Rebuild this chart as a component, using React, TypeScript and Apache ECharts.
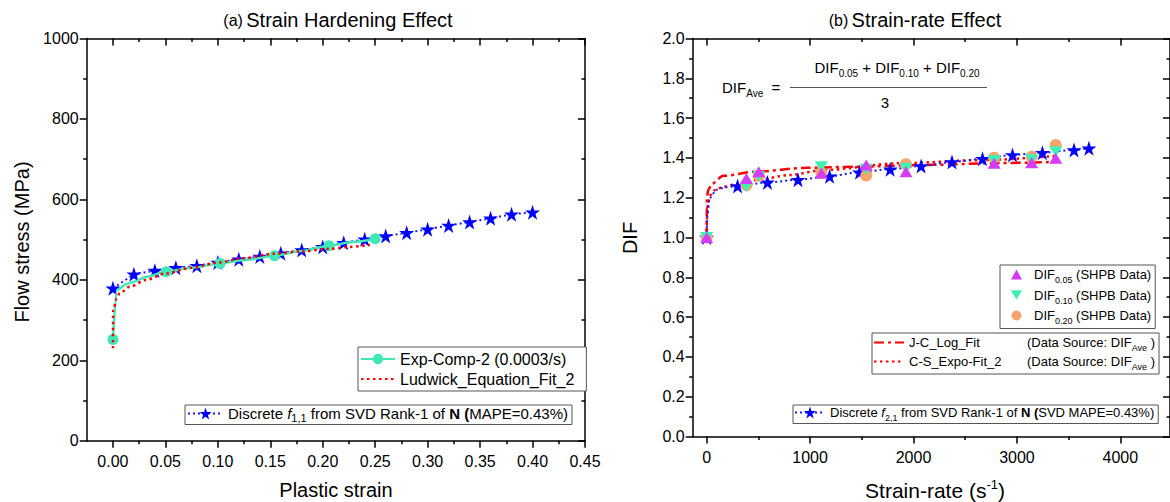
import React, { useEffect, useRef } from "react";
import * as echarts from "echarts";

const FONT = "'Liberation Sans', Arial, Helvetica, sans-serif";

// ---------- (a) Strain hardening ----------
const strainMajor = [0, 0.05, 0.1, 0.15, 0.2, 0.25, 0.3, 0.35, 0.4, 0.45];
const strainMinor = [0.025, 0.075, 0.125, 0.175, 0.225, 0.275, 0.325, 0.375, 0.425];

const f11Strain = [0, 0.02, 0.04, 0.06, 0.08, 0.1, 0.12, 0.14, 0.16, 0.18, 0.2, 0.22, 0.24, 0.26, 0.28, 0.3, 0.32, 0.34, 0.36, 0.38, 0.4];
const f11Stress = [379, 414, 423, 430, 435, 443, 451, 458, 466, 474, 482, 492, 501, 509, 517, 526, 535, 544, 553, 563, 568];

const expStrain = [0, 0.004, 0.0133, 0.0196, 0.0324, 0.0508, 0.075, 0.102, 0.128, 0.154, 0.18, 0.206, 0.228, 0.25];
const expStress = [252, 375, 390, 395, 408, 420, 430, 441, 450, 460, 472, 485, 494, 502];
const expMarkerIdx = [0, 5, 7, 9, 11, 13];

const ludStrain = [0, 0.0003, 0.0035, 0.0066, 0.016, 0.032, 0.05, 0.075, 0.1, 0.125, 0.153, 0.18, 0.206, 0.225, 0.245];
const ludStress = [230, 325, 354, 367, 383, 400, 416, 430, 443, 454, 465, 471, 477, 482, 487];

// ---------- (b) Strain-rate ----------
const rateMajor = [0, 1000, 2000, 3000, 4000];
const rateMinor = [500, 1500, 2500, 3500];

const f21Rate = [0, 8, 30, 95, 180, 299, 588, 883, 1189, 1478, 1774, 2073, 2372, 2667, 2957, 3246, 3552, 3696];
const f21Dif = [1.0, 1.12, 1.2, 1.24, 1.252, 1.259, 1.277, 1.29, 1.308, 1.328, 1.343, 1.359, 1.379, 1.396, 1.415, 1.426, 1.44, 1.448];
const f21MarkerIdx = [0, 5, 6, 7, 8, 9, 10, 11, 12, 13, 14, 15, 16, 17];

const shpbRate = [0, 384, 504, 1109, 1543, 1927, 2780, 3142, 3375];
const dif005 = [1.0, 1.297, 1.331, 1.323, 1.364, 1.331, 1.373, 1.376, 1.398];
const dif010 = [1.0, 1.255, 1.306, 1.356, 1.343, 1.348, 1.387, 1.391, 1.431];
const dif020 = [1.0, 1.262, 1.31, 1.325, 1.311, 1.368, 1.401, 1.406, 1.465];

const jcRate = [0, 0.5, 3, 15, 50, 160, 480, 960, 1450, 2180, 2830, 3380];
const jcDif = [1.0, 1.15, 1.2, 1.24, 1.27, 1.31, 1.331, 1.35, 1.356, 1.365, 1.374, 1.38];

const csRate = [0, 3, 15, 40, 80, 160, 321, 482, 803, 1125, 1864, 2667, 3380];
const csDif = [1.0, 1.1, 1.18, 1.215, 1.239, 1.255, 1.272, 1.289, 1.314, 1.339, 1.373, 1.389, 1.41];

const STAR = "path://M50,0L61.8,35.5L99,35.5L69,57.5L80.5,93L50,71L19.5,93L31,57.5L1,35.5L38.2,35.5Z";
const DOWN_TRI = "path://M0,0L100,0L50,87Z";

const AX = "#000";

function richSet(fs: number, lh: number) {
  const base = { fontFamily: FONT, color: "#000" };
  return {
    n: { ...base, fontSize: fs, lineHeight: lh, verticalAlign: "middle" },
    s: { ...base, fontSize: fs - 4, lineHeight: lh, verticalAlign: "bottom" },
    i: { ...base, fontSize: fs, lineHeight: lh, verticalAlign: "middle", fontStyle: "italic" },
    b: { ...base, fontSize: fs, lineHeight: lh, verticalAlign: "middle", fontWeight: "bold" },
    w: { ...base, fontSize: fs, lineHeight: lh, verticalAlign: "middle", width: 118 },
    g: { ...base, fontSize: fs, lineHeight: lh, verticalAlign: "middle", width: 7 },
  };
}

function xAxes(gridIndex: number, min: number, max: number, major: number[], minor: number[], fmt: (v: number) => string) {
  const common = { type: "value", gridIndex, min, max, splitLine: { show: false } };
  return [
    {
      ...common,
      position: "bottom",
      axisLine: { show: true, onZero: false, lineStyle: { color: AX, width: 1.5 } },
      axisTick: { show: true, inside: false, length: 7, customValues: major, lineStyle: { color: AX, width: 1.5 } },
      axisLabel: { show: true, customValues: major, margin: 13, fontSize: 16, color: "#000", fontFamily: FONT, formatter: fmt },
    },
    {
      ...common,
      position: "bottom",
      axisLine: { show: false, onZero: false },
      axisTick: { show: true, inside: false, length: 3.5, customValues: minor, lineStyle: { color: AX, width: 1.5 } },
      axisLabel: { show: false },
    },
    {
      ...common,
      position: "top",
      axisLine: { show: true, onZero: false, lineStyle: { color: AX, width: 1.5 } },
      axisTick: { show: true, inside: true, length: 7, customValues: major, lineStyle: { color: AX, width: 1.5 } },
      axisLabel: { show: false },
    },
    {
      ...common,
      position: "top",
      axisLine: { show: false, onZero: false },
      axisTick: { show: true, inside: true, length: 3.5, customValues: minor, lineStyle: { color: AX, width: 1.5 } },
      axisLabel: { show: false },
    },
  ];
}

function yAxes(gridIndex: number, min: number, max: number, interval: number, fmt: (v: number) => string) {
  const common = { type: "value", gridIndex, min, max, interval, splitLine: { show: false } };
  return [
    {
      ...common,
      position: "left",
      axisLine: { show: true, onZero: false, lineStyle: { color: AX, width: 1.5 } },
      axisTick: { show: true, inside: false, length: 7, lineStyle: { color: AX, width: 1.5 } },
      minorTick: { show: true, splitNumber: 2, length: 3.5, lineStyle: { color: AX, width: 1.5 } },
      axisLabel: { show: true, margin: 8, fontSize: 16, color: "#000", fontFamily: FONT, formatter: fmt },
    },
    {
      ...common,
      position: "right",
      axisLine: { show: true, onZero: false, lineStyle: { color: AX, width: 1.5 } },
      axisTick: { show: true, inside: true, length: 7, lineStyle: { color: AX, width: 1.5 } },
      minorTick: { show: true, splitNumber: 2, length: 3.5, lineStyle: { color: AX, width: 1.5 } },
      axisLabel: { show: false },
    },
  ];
}

const pairs = (xs: number[], ys: number[]) => xs.map((x, i) => [x, ys[i]]);
const marked = (xs: number[], ys: number[], idx: number[]) =>
  xs.map((x, i) => (idx.includes(i) ? [x, ys[i]] : { value: [x, ys[i]], symbol: "none" }));

const legendBase = {
  orient: "vertical",
  selectedMode: false,
  borderColor: "#555",
  borderWidth: 1,
  borderRadius: 0,
  backgroundColor: "#fff",
};

const NO_SYMBOL = { opacity: 0 };

export default function App() {
  const ref = useRef<HTMLDivElement>(null);
  useEffect(() => {
    if (!ref.current) return;
    const chart = echarts.init(ref.current, undefined, { renderer: "svg" });
    const r15 = richSet(15, 20);
    const r13a = richSet(13, 20);
    const r13b = richSet(13, 19);
    const r13c = richSet(13, 20);
    const option: any = {
      animation: false,
      backgroundColor: "#fff",
      textStyle: { fontFamily: FONT },
      grid: [
        { left: 86.7, top: 38.5, width: 498.3, height: 402.3 },
        { left: 692.7, top: 38.5, width: 478.3, height: 398 },
      ],
      xAxis: [
        ...xAxes(0, -0.025, 0.45, strainMajor, strainMinor, (v: number) => v.toFixed(2)),
        ...xAxes(1, -135, 4480, rateMajor, rateMinor, (v: number) => String(Math.round(v))),
      ],
      yAxis: [
        ...yAxes(0, 0, 1000, 200, (v: number) => String(v)),
        ...yAxes(1, 0, 2, 0.2, (v: number) => v.toFixed(1)),
      ],
      legend: [
        {
          ...legendBase,
          data: [
            { name: "Exp-Comp-2 (0.0003/s)" },
            { name: "Ludwick_Equation_Fit_2", itemStyle: NO_SYMBOL },
          ],
          left: 358,
          top: 347,
          itemWidth: 34,
          itemHeight: 13,
          itemGap: 4,
          padding: [4, 12, 4, 2],
          textStyle: { fontSize: 16, color: "#000", fontFamily: FONT },
        },
        {
          ...legendBase,
          data: ["f11"],
          left: 185,
          top: 405,
          itemWidth: 35,
          itemHeight: 15,
          padding: [1, 4, 1, 2],
          formatter: () => "{n|Discrete }{i|f}{s|1,1}{n| from SVD Rank-1 of }{b|N}{b| (}{n|MAPE=0.43%)}",
          textStyle: { rich: r15 },
        },
        {
          ...legendBase,
          data: ["DIF005", "DIF010", "DIF020"],
          left: 1000,
          top: 265,
          itemWidth: 11,
          itemHeight: 10,
          itemGap: 4,
          padding: [3, 4, 3, 11],
          formatter: (name: string) => {
            const sub = name === "DIF005" ? "0.05" : name === "DIF010" ? "0.10" : "0.20";
            return `{g|}{n|DIF}{s|${sub}}{n| (SHPB Data)}`;
          },
          textStyle: { rich: r13a },
        },
        {
          ...legendBase,
          data: [
            { name: "JC", itemStyle: NO_SYMBOL },
            { name: "CS", itemStyle: NO_SYMBOL },
          ],
          left: 872,
          top: 333,
          itemWidth: 30,
          itemHeight: 10,
          itemGap: 3,
          padding: [3, 4, 3, 1],
          formatter: (name: string) => {
            const lab = name === "JC" ? "J-C_Log_Fit" : "C-S_Expo-Fit_2";
            return `{w|${lab}}{n|(Data Source: DIF}{s|Ave}{n| )}`;
          },
          textStyle: { rich: r13b },
        },
        {
          ...legendBase,
          data: ["f21"],
          left: 793,
          top: 405,
          itemWidth: 30,
          itemHeight: 15,
          padding: [1, 4, 1, 1],
          formatter: () => "{n|Discrete }{i|f}{s|2,1}{n| from SVD Rank-1 of }{b|N}{b| (}{n|SVD MAPE=0.43%)}",
          textStyle: { rich: r13c },
        },
      ],
      series: [
        {
          name: "f11",
          type: "line",
          xAxisIndex: 0,
          yAxisIndex: 0,
          data: pairs(f11Strain, f11Stress),
          symbol: STAR,
          symbolSize: 15,
          showAllSymbol: true,
          itemStyle: { color: "#0000ff" },
          lineStyle: { color: "#1a1aff", width: 2, type: [2, 3] },
          z: 2,
        },
        {
          name: "Exp-Comp-2 (0.0003/s)",
          type: "line",
          xAxisIndex: 0,
          yAxisIndex: 0,
          data: marked(expStrain, expStress, expMarkerIdx),
          symbol: "circle",
          symbolSize: 11,
          showAllSymbol: true,
          smooth: 0.3,
          smoothMonotone: "x",
          itemStyle: { color: "#3fe8b5" },
          lineStyle: { color: "#3fe8b5", width: 2.5 },
          z: 3,
        },
        {
          name: "Ludwick_Equation_Fit_2",
          type: "line",
          xAxisIndex: 0,
          yAxisIndex: 0,
          data: pairs(ludStrain, ludStress),
          symbol: "none",
          smooth: 0.3,
          smoothMonotone: "x",
          itemStyle: { color: "#ff0000" },
          lineStyle: { color: "#ff0000", width: 2.5, type: [2.5, 3.5] },
          z: 4,
        },
        {
          name: "JC",
          type: "line",
          xAxisIndex: 4,
          yAxisIndex: 2,
          data: pairs(jcRate, jcDif),
          symbol: "none",
          smooth: 0.3,
          smoothMonotone: "x",
          itemStyle: { color: "#ff0000" },
          lineStyle: { color: "#ff0000", width: 2.5, type: [10, 4, 3, 4] },
          z: 2,
        },
        {
          name: "CS",
          type: "line",
          xAxisIndex: 4,
          yAxisIndex: 2,
          data: pairs(csRate, csDif),
          symbol: "none",
          smooth: 0.3,
          smoothMonotone: "x",
          itemStyle: { color: "#ff0000" },
          lineStyle: { color: "#ff0000", width: 2.5, type: [2.5, 3.5] },
          z: 2,
        },
        {
          name: "f21",
          type: "line",
          xAxisIndex: 4,
          yAxisIndex: 2,
          data: marked(f21Rate, f21Dif, f21MarkerIdx),
          symbol: STAR,
          symbolSize: 15,
          showAllSymbol: true,
          smooth: 0.3,
          smoothMonotone: "x",
          itemStyle: { color: "#0000ff" },
          lineStyle: { color: "#1a1aff", width: 2, type: [2, 3] },
          z: 3,
        },
        {
          name: "DIF020",
          type: "scatter",
          xAxisIndex: 4,
          yAxisIndex: 2,
          data: pairs(shpbRate, dif020),
          symbol: "circle",
          symbolSize: 12,
          itemStyle: { color: "#f4a46c", opacity: 1 },
          z: 4,
        },
        {
          name: "DIF010",
          type: "scatter",
          xAxisIndex: 4,
          yAxisIndex: 2,
          data: pairs(shpbRate, dif010),
          symbol: DOWN_TRI,
          symbolSize: [13, 11],
          itemStyle: { color: "#3ff0b4", opacity: 1 },
          z: 4,
        },
        {
          name: "DIF005",
          type: "scatter",
          xAxisIndex: 4,
          yAxisIndex: 2,
          data: pairs(shpbRate, dif005),
          symbol: "triangle",
          symbolSize: [13, 11],
          itemStyle: { color: "#d43cf5", opacity: 1 },
          z: 4,
        },
      ],
      graphic: [
        {
          type: "text",
          x: 338,
          y: 20,
          style: {
            text: "{a|(a)} {t|Strain Hardening Effect}",
            align: "center",
            verticalAlign: "middle",
            rich: {
              a: { fontSize: 16, fontFamily: FONT, fill: "#000" },
              t: { fontSize: 20, fontFamily: FONT, fill: "#000" },
            },
          },
        },
        {
          type: "text",
          x: 915,
          y: 20,
          style: {
            text: "{a|(b)} {t|Strain-rate Effect}",
            align: "center",
            verticalAlign: "middle",
            rich: {
              a: { fontSize: 16, fontFamily: FONT, fill: "#000" },
              t: { fontSize: 20, fontFamily: FONT, fill: "#000" },
            },
          },
        },
        {
          type: "text",
          x: 22,
          y: 242,
          rotation: Math.PI / 2,
          style: { text: "Flow stress (MPa)", fontSize: 20, fontFamily: FONT, fill: "#000", align: "center", verticalAlign: "middle" },
        },
        {
          type: "text",
          x: 336,
          y: 490,
          style: { text: "Plastic strain", fontSize: 20, fontFamily: FONT, fill: "#000", align: "center", verticalAlign: "middle" },
        },
        {
          type: "text",
          x: 630,
          y: 238,
          rotation: Math.PI / 2,
          style: { text: "DIF", fontSize: 20, fontFamily: FONT, fill: "#000", align: "center", verticalAlign: "middle" },
        },
        {
          type: "text",
          x: 935,
          y: 490,
          style: {
            text: "{a|Strain-rate (s}{p|-1}{a|)}",
            align: "center",
            verticalAlign: "middle",
            rich: {
              a: { fontSize: 21, fontFamily: FONT, fill: "#000", lineHeight: 24, verticalAlign: "middle" },
              p: { fontSize: 13, fontFamily: FONT, fill: "#000", lineHeight: 24, verticalAlign: "top" },
            },
          },
        },
        {
          type: "text",
          x: 722,
          y: 87,
          style: {
            text: "{a|DIF}{s|Ave}{a|  =}",
            align: "left",
            verticalAlign: "middle",
            rich: {
              a: { fontSize: 15, fontFamily: FONT, fill: "#000", lineHeight: 22, verticalAlign: "middle" },
              s: { fontSize: 10, fontFamily: FONT, fill: "#000", lineHeight: 22, verticalAlign: "bottom" },
            },
          },
        },
        {
          type: "text",
          x: 897,
          y: 67,
          style: {
            text: "{a|DIF}{s|0.05}{a| + DIF}{s|0.10}{a| + DIF}{s|0.20}",
            align: "center",
            verticalAlign: "middle",
            rich: {
              a: { fontSize: 15, fontFamily: FONT, fill: "#000", lineHeight: 22, verticalAlign: "middle" },
              s: { fontSize: 10, fontFamily: FONT, fill: "#000", lineHeight: 22, verticalAlign: "bottom" },
            },
          },
        },
        {
          type: "line",
          shape: { x1: 790, y1: 87.5, x2: 987, y2: 87.5 },
          style: { stroke: "#555", lineWidth: 1 },
        },
        {
          type: "text",
          x: 885,
          y: 102,
          style: { text: "3", fontSize: 15, fontFamily: FONT, fill: "#000", align: "center", verticalAlign: "middle" },
        },
      ],
    };
    chart.setOption(option);
    return () => chart.dispose();
  }, []);
  return <div ref={ref} style={{ position: "absolute", left: 0, top: 0, width: 1170, height: 502 }} />;
}
